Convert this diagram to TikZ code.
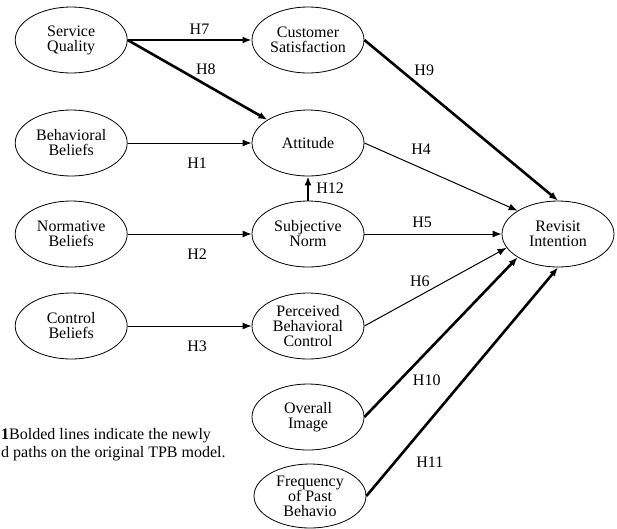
\documentclass[tikz,border=0pt]{standalone}
\usepackage{fontspec}
\setmainfont{Liberation Serif}
\usetikzlibrary{shapes.geometric, arrows.meta, positioning}

\begin{document}
\begin{tikzpicture}[
        x=1pt, y=-1pt,
        node distance=25pt and 124pt,
        construct/.style={ellipse, draw=black, line width=0.8pt, minimum width=112pt, minimum height=66pt, inner sep=0pt, align=center, font=\fontsize{16}{15}\selectfont},
        tpbline/.style={line width=1pt, -{Latex[length=9pt,width=7pt]}},
        boldline/.style={line width=2.6pt, -{Latex[length=9pt,width=7pt]}},
        hyp/.style={font=\fontsize{16}{16}\selectfont, inner sep=2pt},
    ]
        \useasboundingbox (0,0) rectangle (617,528);

        % Middle column - TPB constructs
        \node (cs) [construct] at (308,40) {Customer\\Satisfaction};
        \node (att) [construct] at (308,143) {Attitude};
        \node (sn) [construct] at (308,234) {Subjective\\Norm};
        \node (pbc) [construct] at (308,326) {Perceived\\Behavioral\\Control};
        \node (oi) [construct] at (308,417) {Overall\\Image};
        \node (fpb) [construct, minimum height=64pt] at (310,496) {Frequency\\of Past\\Behavio};

        % Left column - beliefs
        \node (sq) [construct, left=of cs] {Service\\Quality};
        \node (bb) [construct, left=of att] {Behavioral\\Beliefs};
        \node (nb) [construct, left=of sn] {Normative\\Beliefs};
        \node (cb) [construct, left=of pbc] {Control\\Beliefs};

        % Outcome
        \node (ri) [construct] at (558,234) {Revisit\\Intention};

        % Note
        \node (note) [align=left, anchor=base west, inner sep=0pt, font=\fontsize{16}{18}\selectfont] at (1,457) {\textbf{1}Bolded lines indicate the newly\\d paths on the original TPB model.};

        % Original TPB paths
        \draw [tpbline] (bb.east) -- node[hyp, below=12pt, pos=0.56] {H1} (att.west);
        \draw [tpbline] (nb.east) -- node[hyp, below=12pt, pos=0.56] {H2} (sn.west);
        \draw [tpbline] (cb.east) -- node[hyp, below=12pt, pos=0.56] {H3} (pbc.west);
        \draw [tpbline] (att.east) -- node[hyp, above=11pt, pos=0.37] {H4} (ri.150);
        \draw [tpbline] (sn.east) -- node[hyp, above=4pt, pos=0.42] {H5} (ri.west);
        \draw [tpbline] (pbc.east) -- node[hyp, above=6pt, pos=0.39] {H6} (ri.195);

        % Added paths (bold)
        \draw [boldline] (sq.east) -- node[hyp, above=2pt, pos=0.58] {H7} (cs.west);
        \draw [boldline] (sq.east) -- node[hyp, above=7pt, pos=0.56] {H8} (att);
        \draw [boldline] (cs.east) -- node[hyp, right=10pt, pos=0.19] {H9} (ri.north);
        \draw [boldline] (oi.east) -- node[hyp, right=10pt, pos=0.23] {H10} (ri.210);
        \draw [boldline] (fpb.east) -- node[hyp, right=18pt, pos=0.15] {H11} (ri.south);
        \draw [boldline] (sn.north) -- node[hyp, right=5pt] {H12} (att.south);
    \end{tikzpicture}
\end{document}
